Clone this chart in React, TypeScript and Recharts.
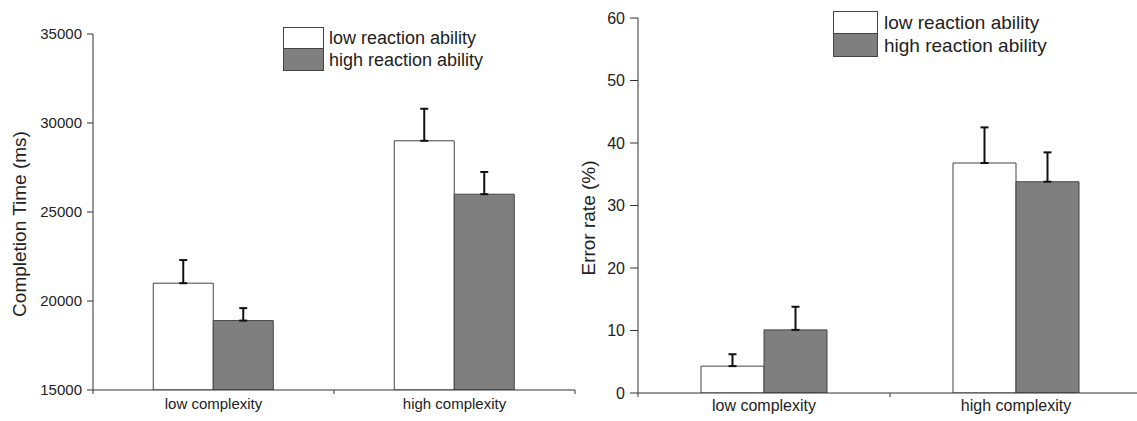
import { BarChart, Bar, XAxis, YAxis, ErrorBar, Legend } from 'recharts';

const categories = ['low complexity', 'high complexity'];
const seriesNames = ['low reaction ability', 'high reaction ability'];
const seriesFills = ['#ffffff', '#7f7f7f'];

// completion time (ms)
const timeLow = [21000, 29000];
const timeHigh = [18900, 26000];
const timeLowErr = [1300, 1800];
const timeHighErr = [700, 1250];
const timeTicks = [15000, 20000, 25000, 30000, 35000];

// error rate (%)
const errLow = [4.3, 36.8];
const errHigh = [10.1, 33.8];
const errLowErr = [1.9, 5.7];
const errHighErr = [3.7, 4.7];
const errTicks = [0, 10, 20, 30, 40, 50, 60];

const FONT = '"Liberation Sans", Arial, sans-serif';
const INK = '#222';
const AXIS = '#333';

const timeData = categories.map((name, i) => ({
    name,
    low: timeLow[i],
    high: timeHigh[i],
    lowErr: [0, timeLowErr[i]],
    highErr: [0, timeHighErr[i]],
}));

const errData = categories.map((name, i) => ({
    name,
    low: errLow[i],
    high: errHigh[i],
    lowErr: [0, errLowErr[i]],
    highErr: [0, errHighErr[i]],
}));

// category label in the middle, small ticks at the band edges
const makeTick = (band: number, dy: number, fontSize: number) => (props: any) => {
    const { x, y, payload, index } = props;
    return (
        <g>
            <line x1={x - band / 2} x2={x - band / 2} y1={y} y2={y + 4} stroke={AXIS} />
            {index === categories.length - 1 && (
                <line x1={x + band / 2} x2={x + band / 2} y1={y} y2={y + 4} stroke={AXIS} />
            )}
            <text x={x} y={y + dy} textAnchor="middle" fontSize={fontSize} fill={INK} fontFamily={FONT}>
                {payload.value}
            </text>
        </g>
    );
};

const makeYLabel = (text: string, x: number, y: number) => () => (
    <text
        x={x}
        y={y}
        transform={`rotate(-90, ${x}, ${y})`}
        textAnchor="middle"
        dominantBaseline="central"
        fontSize={19}
        fill={INK}
        fontFamily={FONT}
    >
        {text}
    </text>
);

const makeLegend = (fontSize: number, boxW: number, boxH: number, gap: number) => () => (
    <div style={{ fontFamily: FONT }}>
        {seriesNames.map((n, i) => (
            <div key={n} style={{ display: 'flex', alignItems: 'center', height: boxH }}>
                <div
                    style={{
                        width: boxW,
                        height: boxH + 1,
                        boxSizing: 'border-box',
                        border: '1px solid #444',
                        background: seriesFills[i],
                        marginTop: i === 0 ? 0 : -1,
                    }}
                />
                <span style={{ marginLeft: gap, fontSize, color: INK, lineHeight: 1, whiteSpace: 'nowrap' }}>{n}</span>
            </div>
        ))}
    </div>
);

function Bars() {
    return [0, 1].map((i) => (
        <Bar
            key={i}
            dataKey={i === 0 ? 'low' : 'high'}
            name={seriesNames[i]}
            fill={seriesFills[i]}
            stroke="#444"
            strokeWidth={1}
            isAnimationActive={false}
        >
            <ErrorBar
                dataKey={i === 0 ? 'lowErr' : 'highErr'}
                direction="y"
                width={4}
                strokeWidth={2}
                stroke="#111"
                isAnimationActive={false}
            />
        </Bar>
    ));
}

export default function App() {
    return (
        <div
            style={{
                position: 'absolute',
                left: 0,
                top: 0,
                width: 1137,
                height: 421,
                overflow: 'hidden',
                background: '#fff',
                fontFamily: FONT,
            }}
        >
            {/* LEFT: completion time */}
            <div style={{ position: 'absolute', left: 0, top: 0 }}>
                <BarChart
                    width={580}
                    height={421}
                    data={timeData}
                    margin={{ top: 34, right: 5, bottom: 1, left: 33 }}
                    barCategoryGap="25%"
                    barGap={0}
                >
                    <XAxis
                        dataKey="name"
                        height={30}
                        axisLine={{ stroke: AXIS }}
                        tickLine={false}
                        tickSize={0}
                        tickMargin={0}
                        interval={0}
                        tick={makeTick(241, 19, 15)}
                    />
                    <YAxis
                        domain={[15000, 35000]}
                        ticks={timeTicks}
                        interval={0}
                        allowDataOverflow
                        width={60}
                        tickSize={6}
                        tickMargin={5}
                        axisLine={{ stroke: AXIS }}
                        tickLine={{ stroke: AXIS }}
                        tick={{ fontSize: 15, fill: INK, fontFamily: FONT }}
                        label={{ value: 'Completion Time (ms)', content: makeYLabel('Completion Time (ms)', 19, 224) }}
                    />
                    <Legend
                        layout="vertical"
                        align="center"
                        verticalAlign="middle"
                        content={makeLegend(18, 41, 22, 5)}
                        wrapperStyle={{ position: 'absolute', top: 27, left: 283, width: 260 }}
                    />
                    {Bars()}
                </BarChart>
            </div>

            {/* RIGHT: error rate */}
            <div style={{ position: 'absolute', left: 570, top: 0 }}>
                <BarChart
                    width={572}
                    height={421}
                    data={errData}
                    margin={{ top: 18, right: 0, bottom: 0, left: 18 }}
                    barCategoryGap="25%"
                    barGap={0}
                >
                    <XAxis
                        dataKey="name"
                        height={28}
                        axisLine={{ stroke: AXIS }}
                        tickLine={false}
                        tickSize={0}
                        tickMargin={0}
                        interval={0}
                        tick={makeTick(252, 18, 16)}
                    />
                    <YAxis
                        domain={[0, 60]}
                        ticks={errTicks}
                        interval={0}
                        allowDataOverflow
                        width={50}
                        tickSize={8}
                        tickMargin={5}
                        axisLine={{ stroke: AXIS }}
                        tickLine={{ stroke: AXIS }}
                        tick={{ fontSize: 16, fill: INK, fontFamily: FONT }}
                        label={{ value: 'Error rate (%)', content: makeYLabel('Error rate (%)', 18, 218) }}
                    />
                    <Legend
                        layout="vertical"
                        align="center"
                        verticalAlign="middle"
                        content={makeLegend(19, 45, 23, 6)}
                        wrapperStyle={{ position: 'absolute', top: 11, left: 263, width: 280 }}
                    />
                    {Bars()}
                </BarChart>
            </div>
        </div>
    );
}
